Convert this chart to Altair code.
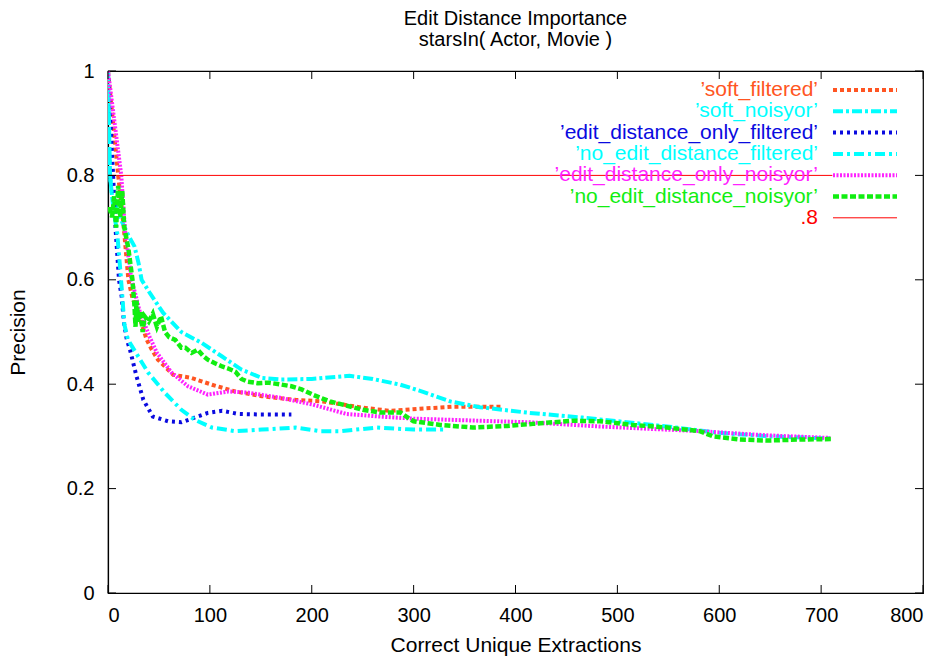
import altair as alt
import pandas as pd

# ---- data -------------------------------------------------------------
soft_filtered_x = [0, 5, 10, 15.7, 20, 24, 29.5, 38, 43, 49, 64, 82, 102, 125, 151, 184, 211, 250, 277, 306, 339, 388]
soft_filtered_y = [1.0, 0.9, 0.8, 0.695, 0.60, 0.565, 0.537, 0.485, 0.466, 0.447, 0.418, 0.412, 0.399, 0.386, 0.377, 0.370, 0.367, 0.355, 0.349, 0.353, 0.357, 0.357]

soft_noisyor_x = [0, 1, 2, 4, 8, 14, 20, 26, 30, 33, 41, 54, 72, 92, 112, 131, 151, 170, 200, 237, 260, 287, 310, 336, 365, 414, 466, 549, 598, 650, 710]
soft_noisyor_y = [1.0, 0.9, 0.8, 0.76, 0.74, 0.71, 0.685, 0.664, 0.632, 0.60, 0.575, 0.537, 0.50, 0.479, 0.453, 0.428, 0.412, 0.409, 0.41, 0.416, 0.41, 0.399, 0.385, 0.367, 0.356, 0.345, 0.336, 0.319, 0.307, 0.30, 0.296]

ed_only_filtered_x = [0, 2.5, 5, 7.5, 10.8, 13.4, 15.7, 18.5, 21.6, 28, 34.7, 44, 59, 72, 85, 98, 112, 128, 150, 180]
ed_only_filtered_y = [1.0, 0.9, 0.8, 0.695, 0.60, 0.568, 0.517, 0.485, 0.466, 0.415, 0.37, 0.338, 0.329, 0.327, 0.336, 0.345, 0.349, 0.343, 0.342, 0.342]

no_ed_filtered_x = [0, 1, 2, 5, 9, 12, 14, 16, 19.6, 26.5, 39.5, 56, 72, 85, 102, 125, 151, 184, 208, 228, 264, 300, 330]
no_ed_filtered_y = [1.0, 0.9, 0.8, 0.74, 0.69, 0.62, 0.57, 0.515, 0.485, 0.463, 0.422, 0.383, 0.351, 0.332, 0.317, 0.31, 0.313, 0.317, 0.31, 0.31, 0.317, 0.313, 0.313]

ed_only_noisyor_x = [0, 6.5, 13, 16.7, 23, 26.5, 31.4, 41, 48, 62.5, 78.5, 98, 118, 137, 169, 201, 234, 267, 300, 365, 414, 483, 581, 647, 709]
ed_only_noisyor_y = [1.0, 0.9, 0.8, 0.695, 0.60, 0.575, 0.537, 0.49, 0.46, 0.422, 0.396, 0.38, 0.386, 0.384, 0.374, 0.361, 0.343, 0.338, 0.334, 0.33, 0.327, 0.319, 0.31, 0.302, 0.297]

no_ed_noisyor_x = [0, 2, 4, 6, 8, 10, 12, 14, 16, 18, 20, 22, 24, 26, 27, 28, 30, 32, 34, 36, 40, 44, 48, 52, 56, 60, 66, 72, 76, 82, 88, 93, 98, 105, 112, 118, 125, 131, 137, 147, 157, 168, 180, 190, 201, 210, 218, 234, 250, 267, 287, 295, 300, 326, 358, 392, 417, 456, 483, 515, 549, 581, 594, 620, 647, 679, 711]
no_ed_noisyor_y = [0.735, 0.735, 0.72, 0.76, 0.70, 0.78, 0.72, 0.77, 0.70, 0.68, 0.66, 0.63, 0.60, 0.55, 0.51, 0.56, 0.52, 0.54, 0.50, 0.53, 0.52, 0.535, 0.51, 0.53, 0.50, 0.49, 0.485, 0.47, 0.47, 0.46, 0.466, 0.455, 0.447, 0.44, 0.434, 0.43, 0.424, 0.41, 0.405, 0.402, 0.403, 0.40, 0.396, 0.39, 0.38, 0.373, 0.367, 0.359, 0.351, 0.346, 0.346, 0.335, 0.329, 0.322, 0.317, 0.32, 0.324, 0.33, 0.329, 0.322, 0.317, 0.31, 0.30, 0.294, 0.292, 0.294, 0.295]

threshold_value = 0.8
threshold_label = ".8"

title_lines = ["Edit Distance Importance", "starsIn( Actor, Movie )"]

x_tick_values = [0, 100, 200, 300, 400, 500, 600, 700, 800]
y_tick_values = [0, 0.2, 0.4, 0.6, 0.8, 1.0]

# (label, x list, y list, colour, dash pattern, line width)
series = [
    ("\u2019soft_filtered\u2019", soft_filtered_x, soft_filtered_y, "#ff5522", [4, 3], 4),
    ("\u2019soft_noisyor\u2019", soft_noisyor_x, soft_noisyor_y, "#00ffff", [10, 3, 3, 3], 4),
    ("\u2019edit_distance_only_filtered\u2019", ed_only_filtered_x, ed_only_filtered_y, "#0a0adf", [3, 4], 4),
    ("\u2019no_edit_distance_filtered\u2019", no_ed_filtered_x, no_ed_filtered_y, "#00ffff", [10, 4, 3, 4], 4),
    ("\u2019edit_distance_only_noisyor\u2019", ed_only_noisyor_x, ed_only_noisyor_y, "#ff22ff", [2, 1.5], 4),
    ("\u2019no_edit_distance_noisyor\u2019", no_ed_noisyor_x, no_ed_noisyor_y, "#11ee11", [6, 2.5], 4.5),
]

# ---- layout -----------------------------------------------------------
W, H = 815, 522
PAD_L, PAD_T = 108, 71
FONT = "Liberation Sans"
TICK = 8

x_scale = alt.Scale(domain=[0, 800], nice=False, zero=False)
y_scale = alt.Scale(domain=[0, 1], nice=False, zero=False)

x_axis = alt.Axis(
    values=x_tick_values, title="Correct Unique Extractions", format="d",
    ticks=False, grid=False, labelPadding=12,
    titleX=W / 2, titleY=52, titleBaseline="middle", titleAlign="center",
)
y_axis = alt.Axis(
    values=y_tick_values, title="Precision", format="~g",
    ticks=False, grid=False, labelPadding=14,
    titleX=-90, titleY=H / 2, titleAngle=270, titleBaseline="middle", titleAlign="center",
)


def xenc(field):
    return alt.X(f"{field}:Q", scale=x_scale, axis=x_axis)


def yenc(field):
    return alt.Y(f"{field}:Q", scale=y_scale, axis=y_axis)


layers = []

# data curves, drawn in series order
for label, xs, ys, colour, dash, width in series:
    df = pd.DataFrame({"x": xs, "y": ys, "i": range(len(xs))})
    layers.append(
        alt.Chart(df).mark_line(
            color=colour, strokeDash=dash, strokeWidth=width, strokeCap="butt", clip=True
        ).encode(x=xenc("x"), y=yenc("y"), order="i:Q")
    )

# constant .8 reference line, sampled over the data range
x_end = max(max(s[1]) for s in series)
thr = pd.DataFrame({"x": [0], "x2": [x_end], "y": [threshold_value]})
layers.append(
    alt.Chart(thr).mark_rule(color="#ff0000", strokeWidth=1).encode(
        x=xenc("x"), x2="x2:Q", y=yenc("y")
    )
)

# inward tick marks on all four sides
xt = pd.DataFrame({"x": x_tick_values})
yt = pd.DataFrame({"y": y_tick_values})
layers += [
    alt.Chart(xt).mark_rule(color="black", strokeWidth=1).encode(
        x=xenc("x"), y=alt.value(H), y2=alt.value(H - TICK)),
    alt.Chart(xt).mark_rule(color="black", strokeWidth=1).encode(
        x=xenc("x"), y=alt.value(0), y2=alt.value(TICK)),
    alt.Chart(yt).mark_rule(color="black", strokeWidth=1).encode(
        y=yenc("y"), x=alt.value(0), x2=alt.value(TICK)),
    alt.Chart(yt).mark_rule(color="black", strokeWidth=1).encode(
        y=yenc("y"), x=alt.value(W), x2=alt.value(W - TICK)),
]

# key: label text right-aligned, line sample to its right
key_entries = [(s[0], s[3], s[4], s[5]) for s in series] + [(threshold_label, "#ff0000", None, 1)]
KEY_TEXT_X = 818 - PAD_L
KEY_S0, KEY_S1 = 833 - PAD_L, 897 - PAD_L
KEY_Y0, KEY_DY = 90 - PAD_T, 21.3
for k, (label, colour, dash, width) in enumerate(key_entries):
    ky = KEY_Y0 + k * KEY_DY
    kdf = pd.DataFrame({"label": [label]})
    layers.append(
        alt.Chart(kdf).mark_text(
            align="right", baseline="middle", font=FONT, fontSize=21, color=colour
        ).encode(text="label:N", x=alt.value(KEY_TEXT_X), y=alt.value(ky))
    )
    rule_kw = dict(color=colour, strokeWidth=width, strokeCap="butt")
    if dash:
        rule_kw["strokeDash"] = dash
    layers.append(
        alt.Chart(kdf).mark_rule(**rule_kw).encode(
            x=alt.value(KEY_S0), x2=alt.value(KEY_S1), y=alt.value(ky)
        )
    )

# two-line heading centred over the plot
for j, line in enumerate(title_lines):
    tdf = pd.DataFrame({"t": [line]})
    layers.append(
        alt.Chart(tdf).mark_text(
            align="center", baseline="alphabetic", font=FONT, fontSize=20, color="black"
        ).encode(text="t:N", x=alt.value(W / 2), y=alt.value(25 - PAD_T + j * 20.5))
    )

chart = alt.layer(*layers).properties(
    width=W,
    height=H,
    autosize=alt.AutoSizeParams(type="none"),
    padding={"left": PAD_L, "top": PAD_T, "right": 948 - PAD_L - W, "bottom": 664 - PAD_T - H},
).configure(
    background="white"
).configure_view(
    stroke="black", strokeWidth=1.2
).configure_axis(
    labelFont=FONT, labelFontSize=20, labelColor="black",
    titleFont=FONT, titleFontSize=21, titleFontWeight="normal", titleColor="black",
    domainColor="black", domainWidth=1.2,
)

chart.save("out.html", embed_options={"renderer": "svg", "actions": False})
